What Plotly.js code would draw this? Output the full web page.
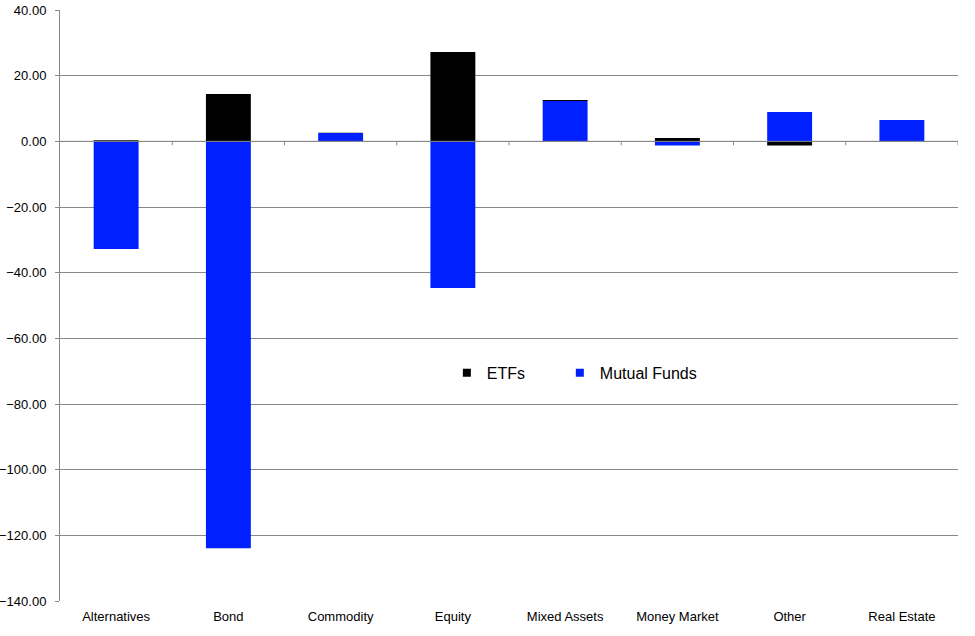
<!DOCTYPE html>
<html>
<head>
<meta charset="utf-8">
<script src="https://cdn.plot.ly/plotly-3.0.1.min.js"></script>
<style>html,body{margin:0;padding:0;background:#fff;}#chart{width:975px;height:636px;}</style>
</head>
<body>
<div id="chart"></div>
<script>
var categories = ["Alternatives","Bond","Commodity","Equity","Mixed Assets","Money Market","Other","Real Estate"];
var mutualFunds = [-32.8, -123.9, 2.5, -44.7, 12.3, -1.3, 8.9, 6.5];
var etfs = [0.3, 14.4, 0.1, 27.2, 0.3, 1.0, -1.3, 0.0];
var yTicks = [40, 20, 0, -20, -40, -60, -80, -100, -120, -140];
var seriesNames = ["ETFs", "Mutual Funds"];
var seriesColors = ["#000000", "#0020ff"];

var font = {family: "Arial, 'Liberation Sans', sans-serif", size: 13, color: "#000"};
var legendFont = {family: "Arial, 'Liberation Sans', sans-serif", size: 16, color: "#000"};

var traces = [
  {type: "bar", name: seriesNames[1], x: categories, y: mutualFunds, showlegend: false,
   marker: {color: seriesColors[1], line: {width: 0}}},
  {type: "bar", name: seriesNames[0], x: categories, y: etfs, showlegend: false,
   marker: {color: seriesColors[0], line: {width: 0}}}
];
// legend entries with small square keys
var legendIds = ["legend", "legend2"];
for (var k = 0; k < seriesNames.length; k++) {
  traces.push({type: "scatter", mode: "markers", name: seriesNames[k], x: [null], y: [null],
    marker: {symbol: "square", size: 8, color: seriesColors[k]}, showlegend: true,
    legend: legendIds[k]});
}

// small tick marks between categories on the zero line
var shapes = [];
for (var i = 0; i < categories.length; i++) {
  shapes.push({type: "line", xref: "x", yref: "y", x0: i + 0.5, x1: i + 0.5,
    y0: 0, y1: -1.2, line: {color: "#888", width: 1}});
}
shapes.push({type: "line", xref: "paper", yref: "y", x0: 0, x1: 1, y0: 0, y1: 0,
  line: {color: "#888", width: 1}});

var legendBase = {orientation: "h", y: 0.386, xanchor: "left", yanchor: "middle",
  font: legendFont, bgcolor: "rgba(0,0,0,0)"};

var layout = {
  width: 975, height: 636,
  margin: {l: 60, r: 17, t: 10, b: 35},
  paper_bgcolor: "#fff", plot_bgcolor: "#fff",
  barmode: "relative",
  bargap: 0.6,
  font: font,
  showlegend: true,
  legend: Object.assign({}, legendBase, {x: 0.4308}),
  legend2: Object.assign({}, legendBase, {x: 0.5566}),
  xaxis: {type: "category", showgrid: false, zeroline: false, showline: false,
    ticks: "", tickfont: font, ticklabelstandoff: 6,
    range: [-0.5, categories.length - 0.5], fixedrange: true},
  yaxis: {range: [-140, 40], tickvals: yTicks, tickformat: ".2f",
    showgrid: true, gridcolor: "#888", gridwidth: 1,
    zeroline: false, showline: true, linecolor: "#888", linewidth: 1,
    ticks: "outside", ticklen: 4, tickcolor: "#888", tickfont: font,
    ticklabelstandoff: 6, fixedrange: true},
  shapes: shapes
};

Plotly.newPlot("chart", traces, layout, {displayModeBar: false, staticPlot: true});
</script>
</body>
</html>
